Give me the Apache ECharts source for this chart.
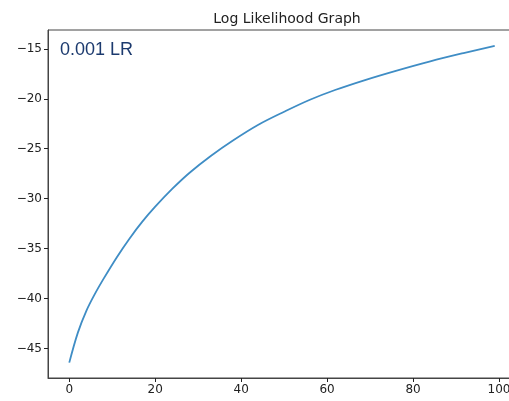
<!DOCTYPE html>
<html>
<head>
<meta charset="utf-8">
<script src="https://cdn.jsdelivr.net/npm/echarts@6/dist/echarts.min.js"></script>
<style>
html, body { margin: 0; padding: 0; background: #fff; }
#main { width: 509px; height: 401px; }
</style>
</head>
<body>
<div id="main"></div>
<script>
// iteration / log likelihood
var iters = [0, 2, 4, 6, 8, 11, 14, 17, 20, 24, 28, 33, 38, 44, 50, 56, 62, 69, 76, 84, 92, 99];
var logLik = [-46.4, -43.4, -41.2, -39.5, -38.0, -35.9, -34.0, -32.3, -30.8, -29.0, -27.4, -25.7, -24.2, -22.6, -21.3, -20.1, -19.1, -18.1, -17.2, -16.25, -15.4, -14.7];
var xTicks = [0, 20, 40, 60, 80, 100];
var yTicks = [-45, -40, -35, -30, -25, -20, -15];

var points = [];
for (var i = 0; i < iters.length; i++) {
	points.push([iters[i], logLik[i]]);
}

function minus(v) {
	return String(v).replace('-', '\u2212');
}

var myChart = echarts.init(document.getElementById('main'));

var option = {
	animation: false,
	title: {
		text: 'Log Likelihood Graph',
		left: 282,
		top: 7,
		textAlign: 'center',
		textStyle: {
			fontFamily: 'DejaVu Sans',
			fontSize: 14,
			fontWeight: 'normal',
			color: '#222'
		}
	},
	graphic: [{
		type: 'text',
		left: 60,
		top: 41,
		z: 10,
		style: {
			text: '0.001 LR',
			font: '18px "Liberation Sans"',
			fill: '#1c3a6e'
		}
	}],
	grid: {
		left: 48,
		top: 30,
		width: 468,
		height: 348,
		outerBoundsMode: 'none',
		show: true,
		borderColor: '#444',
		borderWidth: 1
	},
	xAxis: {
		type: 'value',
		min: -4.95,
		max: 103.95,
		splitLine: { show: false },
		axisLine: { onZero: false, lineStyle: { color: '#444' } },
		axisTick: {
			customValues: xTicks,
			length: 4,
			lineStyle: { color: '#222' }
		},
		axisLabel: {
			customValues: xTicks,
			margin: 6,
			fontFamily: 'DejaVu Sans',
			fontSize: 12,
			color: '#222'
		}
	},
	yAxis: {
		type: 'value',
		min: -47.94,
		max: -13.12,
		splitLine: { show: false },
		axisLine: { show: true, onZero: false, lineStyle: { color: '#444' } },
		axisTick: {
			show: true,
			customValues: yTicks,
			length: 4,
			lineStyle: { color: '#222' }
		},
		axisLabel: {
			customValues: yTicks,
			margin: 6,
			fontFamily: 'DejaVu Sans',
			fontSize: 12,
			color: '#222',
			formatter: minus
		}
	},
	series: [{
		type: 'line',
		data: points,
		smooth: 0.35,
		showSymbol: false,
		lineStyle: { color: '#3f8dc5', width: 1.8 }
	}]
};

myChart.setOption(option);
</script>
</body>
</html>
